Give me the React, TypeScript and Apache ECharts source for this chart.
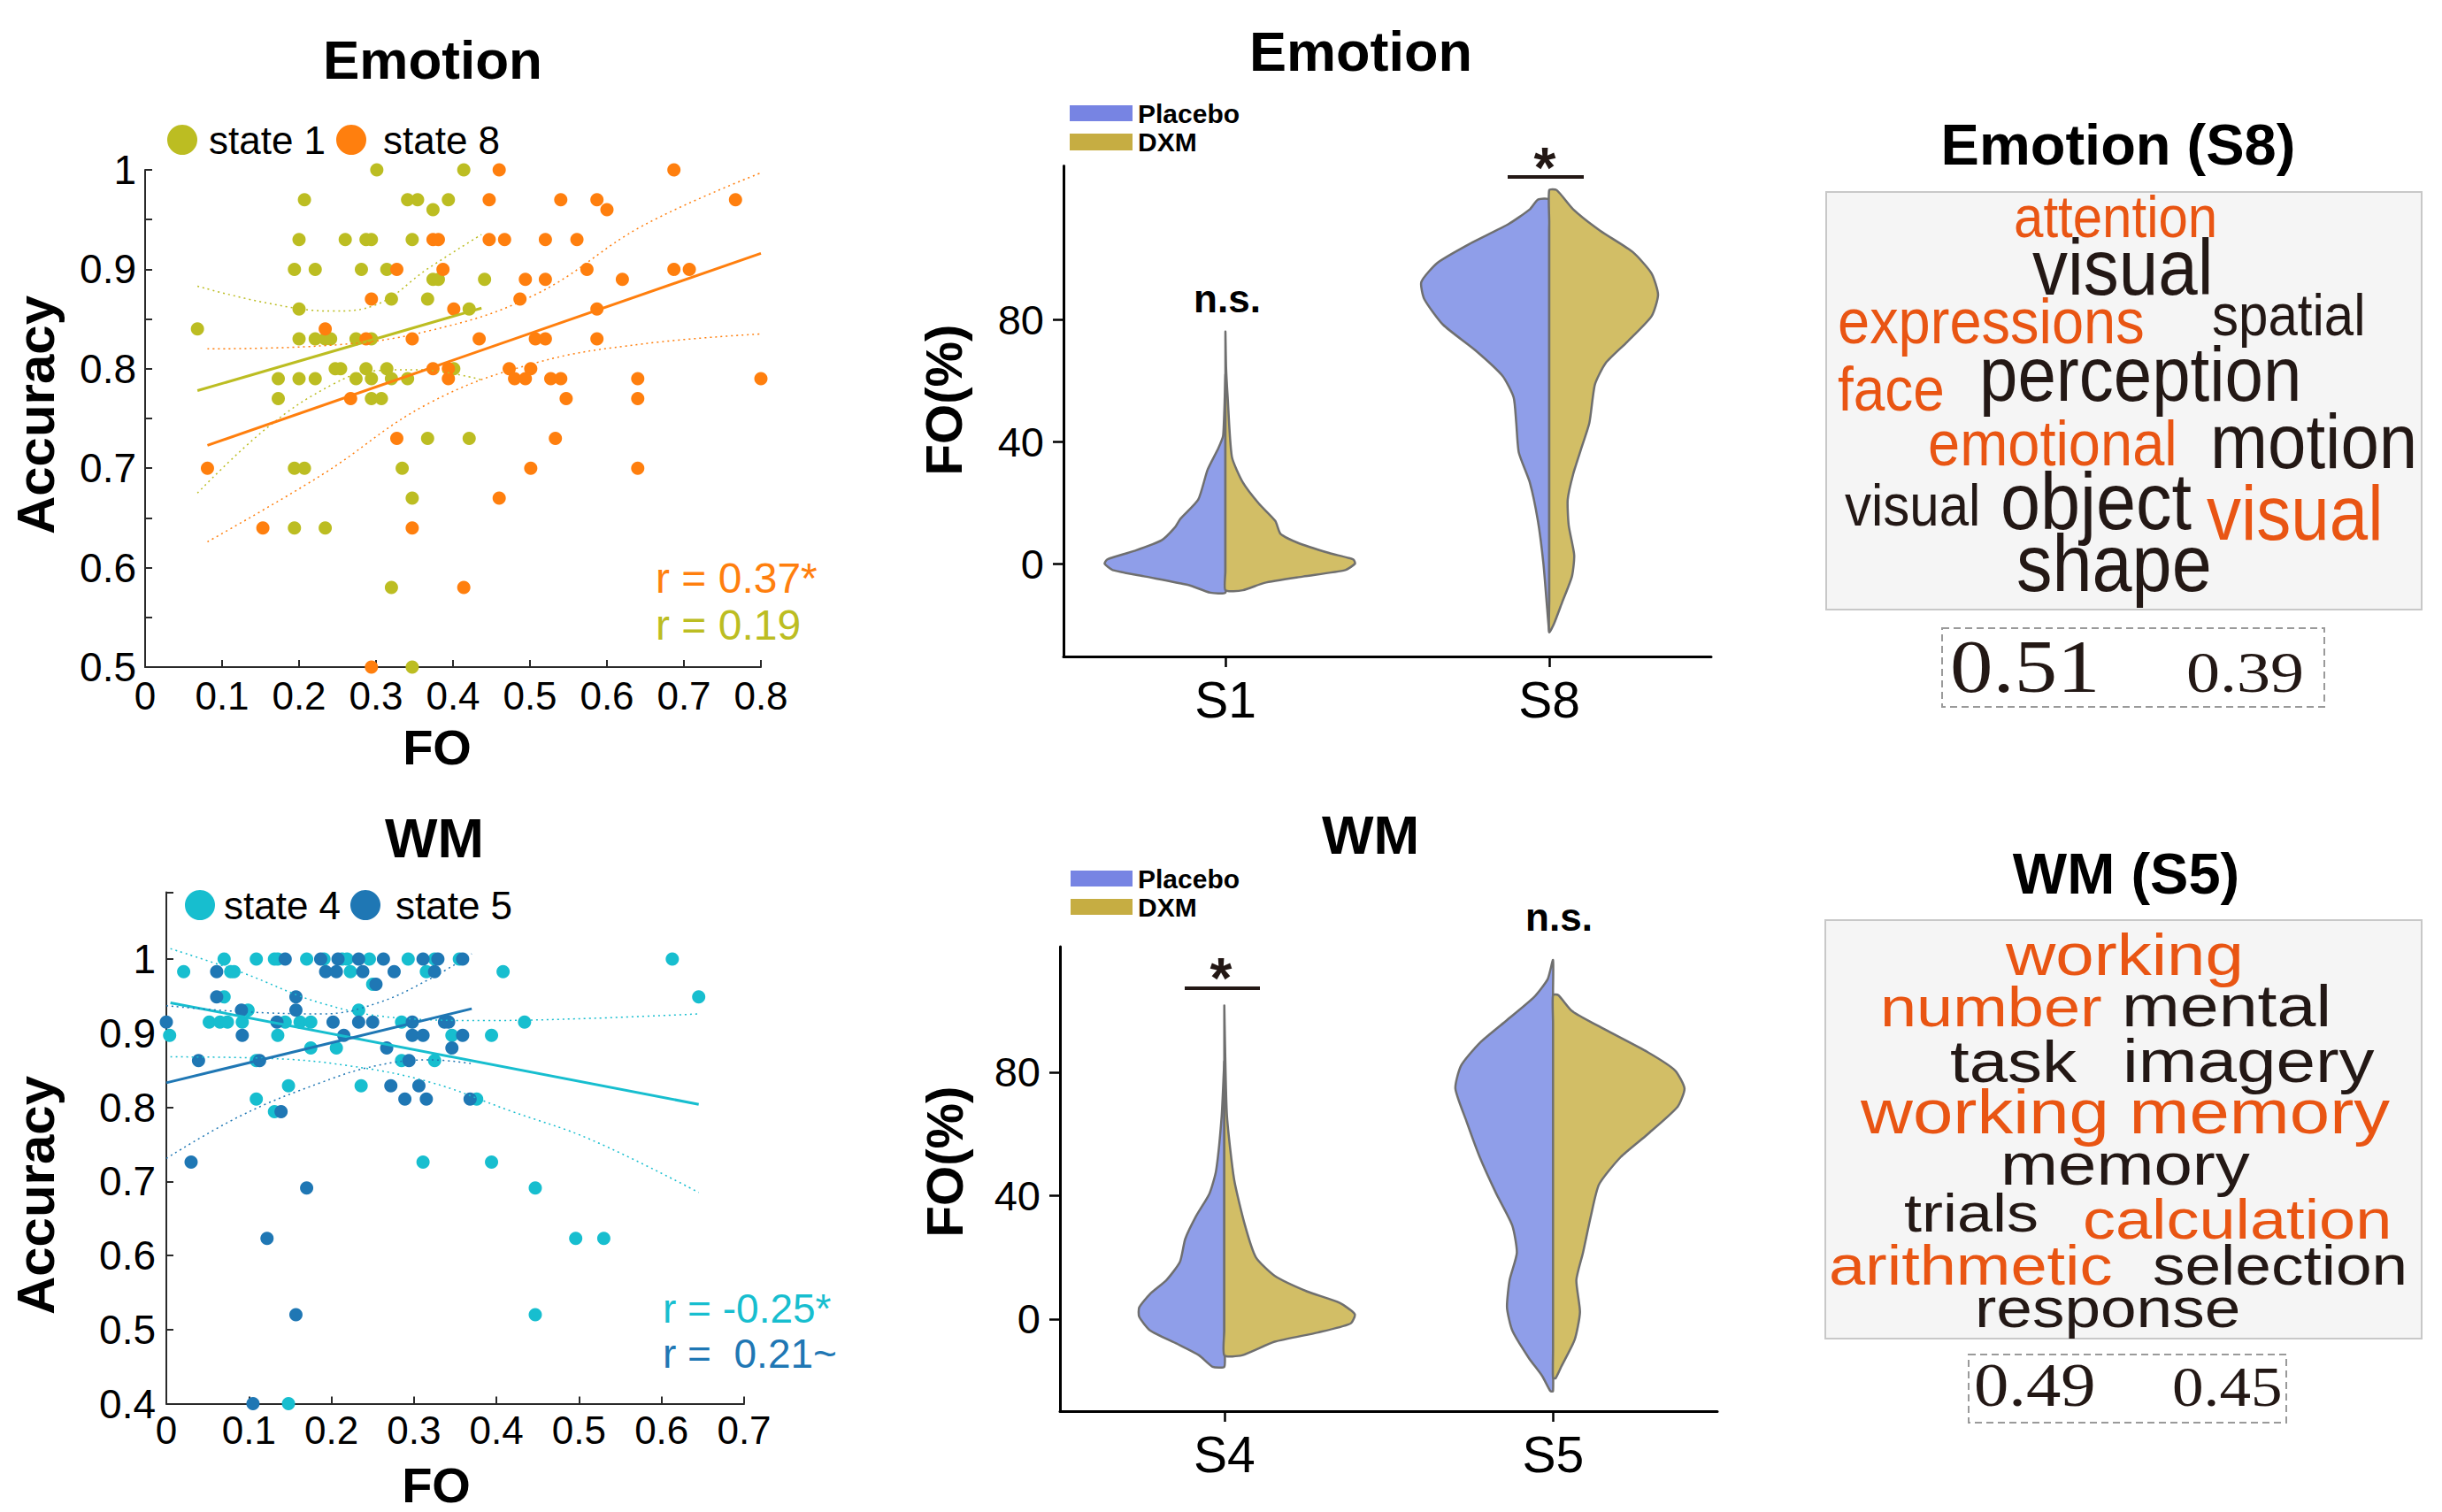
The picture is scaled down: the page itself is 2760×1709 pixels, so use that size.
import React, { useEffect, useRef } from "react";
import * as echarts from "echarts";

const W = 2760;
const H = 1709;
const FONT = '"Liberation Sans", Arial, Helvetica, sans-serif';
const SERIF = '"Liberation Serif", "Times New Roman", serif';

const C_S1 = "#bcbd22";
const C_S8 = "#ff7f0e";
const C_S4 = "#17becf";
const C_S5 = "#1f77b4";
const PLACEBO_FILL = "#8f9ee9";
const DXM_FILL = "#d2be66";
const PLACEBO_KEY = "#7784e3";
const DXM_KEY = "#c6ad42";
const WORD_ORANGE = "#e95513";
const WORD_DARK = "#231815";

// ---------- Emotion scatter (FO vs Accuracy) ----------
const state1Points = [
  [0.301, 1.0], [0.414, 1.0], [0.207, 0.97], [0.341, 0.97], [0.354, 0.97], [0.394, 0.97], [0.374, 0.96],
  [0.2, 0.93], [0.26, 0.93], [0.287, 0.93], [0.294, 0.93], [0.347, 0.93], [0.194, 0.9], [0.221, 0.9],
  [0.281, 0.9], [0.314, 0.9], [0.374, 0.89], [0.381, 0.89], [0.441, 0.89], [0.32, 0.87], [0.367, 0.87],
  [0.2, 0.86], [0.421, 0.86], [0.068, 0.84], [0.2, 0.83], [0.221, 0.83], [0.234, 0.83], [0.241, 0.83],
  [0.274, 0.83], [0.294, 0.83], [0.247, 0.8], [0.254, 0.8], [0.287, 0.8], [0.314, 0.8], [0.401, 0.8],
  [0.173, 0.79], [0.2, 0.79], [0.221, 0.79], [0.274, 0.79], [0.294, 0.79], [0.32, 0.79], [0.341, 0.79],
  [0.173, 0.77], [0.294, 0.77], [0.307, 0.77], [0.367, 0.73], [0.421, 0.73], [0.194, 0.7], [0.207, 0.7],
  [0.334, 0.7], [0.347, 0.67], [0.194, 0.64], [0.234, 0.64], [0.32, 0.58], [0.347, 0.5],
];
const state8Points = [
  [0.46, 1.0], [0.687, 1.0], [0.447, 0.97], [0.54, 0.97], [0.587, 0.97], [0.767, 0.97], [0.6, 0.96],
  [0.374, 0.93], [0.381, 0.93], [0.447, 0.93], [0.467, 0.93], [0.52, 0.93], [0.561, 0.93], [0.327, 0.9],
  [0.387, 0.9], [0.574, 0.9], [0.687, 0.9], [0.707, 0.9], [0.494, 0.89], [0.52, 0.89], [0.62, 0.89],
  [0.294, 0.87], [0.487, 0.87], [0.401, 0.86], [0.587, 0.86], [0.234, 0.84], [0.287, 0.83], [0.347, 0.83],
  [0.434, 0.83], [0.507, 0.83], [0.52, 0.83], [0.587, 0.83], [0.374, 0.8], [0.394, 0.8], [0.473, 0.8],
  [0.501, 0.8], [0.394, 0.79], [0.48, 0.79], [0.494, 0.79], [0.527, 0.79], [0.54, 0.79], [0.64, 0.79],
  [0.8, 0.79], [0.267, 0.77], [0.547, 0.77], [0.64, 0.77], [0.327, 0.73], [0.533, 0.73], [0.081, 0.7],
  [0.501, 0.7], [0.64, 0.7], [0.46, 0.67], [0.153, 0.64], [0.347, 0.64], [0.414, 0.58], [0.294, 0.5],
];
const state1Fit = [[0.068, 0.778], [0.437, 0.861]];
const state1CiUpper = [[0.068, 0.883], [0.159, 0.866], [0.243, 0.858], [0.299, 0.864], [0.368, 0.901], [0.437, 0.935]];
const state1CiLower = [[0.068, 0.675], [0.159, 0.741], [0.243, 0.784], [0.299, 0.798], [0.354, 0.799], [0.437, 0.789]];
const state8Fit = [[0.081, 0.723], [0.8, 0.916]];
const state8CiUpper = [[0.081, 0.82], [0.229, 0.823], [0.368, 0.838], [0.508, 0.875], [0.647, 0.944], [0.8, 0.997]];
const state8CiLower = [[0.081, 0.626], [0.229, 0.693], [0.368, 0.765], [0.508, 0.806], [0.647, 0.825], [0.8, 0.835]];

// ---------- WM scatter ----------
const state4Points = [
  [0.07, 1.0], [0.109, 1.0], [0.131, 1.0], [0.135, 1.0], [0.17, 1.0], [0.191, 1.0], [0.213, 1.0], [0.219, 1.0],
  [0.246, 1.0], [0.293, 1.0], [0.325, 1.0], [0.355, 1.0], [0.613, 1.0],
  [0.021, 0.983], [0.078, 0.983], [0.082, 0.983], [0.223, 0.983], [0.315, 0.983], [0.408, 0.983],
  [0.25, 0.966], [0.07, 0.949], [0.645, 0.949], [0.099, 0.931], [0.233, 0.931],
  [0.052, 0.915], [0.065, 0.915], [0.074, 0.915], [0.092, 0.915], [0.144, 0.915], [0.162, 0.915], [0.175, 0.915],
  [0.285, 0.915], [0.434, 0.915], [0.004, 0.897], [0.135, 0.897], [0.346, 0.897], [0.394, 0.897],
  [0.175, 0.88], [0.206, 0.88], [0.109, 0.863], [0.285, 0.863], [0.325, 0.863], [0.148, 0.829], [0.236, 0.829],
  [0.109, 0.811], [0.376, 0.811], [0.131, 0.794], [0.311, 0.726], [0.394, 0.726], [0.447, 0.691],
  [0.496, 0.623], [0.53, 0.623], [0.447, 0.52], [0.148, 0.4],
];
const state5Points = [
  [0.144, 1.0], [0.187, 1.0], [0.208, 1.0], [0.233, 1.0], [0.263, 1.0], [0.311, 1.0], [0.329, 1.0], [0.359, 1.0],
  [0.061, 0.983], [0.193, 0.983], [0.206, 0.983], [0.238, 0.983], [0.276, 0.983], [0.325, 0.983],
  [0.254, 0.966], [0.061, 0.949], [0.157, 0.949], [0.091, 0.931], [0.157, 0.931],
  [0.0, 0.915], [0.134, 0.915], [0.202, 0.915], [0.233, 0.915], [0.25, 0.915], [0.298, 0.915], [0.337, 0.915], [0.342, 0.915],
  [0.092, 0.897], [0.215, 0.897], [0.298, 0.897], [0.311, 0.897], [0.359, 0.897], [0.267, 0.88], [0.346, 0.88],
  [0.039, 0.863], [0.113, 0.863], [0.294, 0.863], [0.272, 0.829], [0.306, 0.829], [0.289, 0.811], [0.315, 0.811],
  [0.368, 0.811], [0.139, 0.794], [0.03, 0.726], [0.17, 0.691], [0.122, 0.623], [0.157, 0.52], [0.105, 0.4],
];
const state4Fit = [[0.005, 0.941], [0.645, 0.804]];
const state4CiUpper = [[0.005, 1.014], [0.091, 0.982], [0.189, 0.94], [0.287, 0.92], [0.385, 0.917], [0.515, 0.92], [0.645, 0.926]];
const state4CiLower = [[0.005, 0.868], [0.123, 0.866], [0.221, 0.856], [0.319, 0.834], [0.417, 0.795], [0.515, 0.756], [0.645, 0.685]];
const state5Fit = [[0.0, 0.833], [0.37, 0.933]];
const state5CiUpper = [[0.0, 0.937], [0.091, 0.929], [0.189, 0.926], [0.254, 0.94], [0.319, 0.973], [0.37, 1.007]];
const state5CiLower = [[0.0, 0.731], [0.091, 0.789], [0.189, 0.834], [0.254, 0.856], [0.319, 0.864], [0.37, 0.859]];

// ---------- Violins: [FO(%), half-width as fraction of category band] ----------
const emotionStates = ["S1", "S8"];
const wmStates = ["S4", "S5"];
const emoS1Placebo = [[62, 0], [42, 0.007], [37.8, 0.022], [30.8, 0.055], [21, 0.084], [14.7, 0.139], [11.9, 0.156], [7.7, 0.197], [4.2, 0.281], [1.4, 0.365], [0, 0.373], [-2.1, 0.348], [-4.2, 0.248], [-7, 0.114], [-9.5, 0.047], [-9.5, 0]];
const emoS1Dxm = [[76, 0], [64.3, 0.002], [54.5, 0.007], [35, 0.02], [26.6, 0.054], [19.6, 0.104], [14, 0.154], [9.8, 0.17], [7, 0.22], [3.5, 0.32], [1.4, 0.395], [0, 0.4], [-2.1, 0.37], [-4.2, 0.24], [-6.3, 0.12], [-8.7, 0.054], [-8.7, 0]];
const emoS8Placebo = [[119.3, 0], [119.3, 0.035], [116.1, 0.06], [111.2, 0.127], [104.9, 0.244], [98.6, 0.345], [92.3, 0.395], [86.7, 0.386], [78.3, 0.328], [69.9, 0.228], [61.5, 0.144], [54.5, 0.11], [46.2, 0.102], [36.4, 0.094], [26.6, 0.06], [14, 0.035], [0, 0.018], [-14, 0.007], [-22.4, 0]];
const emoS8Dxm = [[122.4, 0], [122.4, 0.023], [116.1, 0.074], [109.1, 0.157], [102.1, 0.258], [95.1, 0.316], [88.1, 0.336], [81.1, 0.316], [72.7, 0.241], [65.7, 0.174], [58.7, 0.141], [46.2, 0.124], [37.8, 0.099], [29.4, 0.074], [21, 0.057], [12.6, 0.06], [2.8, 0.077], [-4.2, 0.07], [-12.6, 0.04], [-19.6, 0.015], [-22.4, 0]];
const wmS4Placebo = [[83.5, 0], [65.8, 0.008], [48.1, 0.025], [40.7, 0.045], [33.3, 0.086], [25.9, 0.119], [18.5, 0.135], [12.6, 0.176], [8.1, 0.226], [3.7, 0.259], [0.7, 0.259], [-3.7, 0.226], [-8.1, 0.143], [-11.8, 0.077], [-15.5, 0.036], [-15.5, 0]];
const wmS4Dxm = [[101.6, 0], [89.5, 0.002], [65.8, 0.008], [45.1, 0.03], [30.3, 0.063], [20, 0.096], [14, 0.153], [8.9, 0.252], [5.2, 0.351], [1.5, 0.397], [-1.5, 0.384], [-4.4, 0.285], [-7.4, 0.153], [-11.8, 0.054], [-11.8, 0]];
const wmS5Placebo = [[116.4, 0], [110.2, 0.016], [104.3, 0.058], [96.9, 0.14], [89.5, 0.223], [82.1, 0.28], [74.7, 0.297], [64.3, 0.264], [52.5, 0.223], [40.7, 0.173], [30.3, 0.124], [21.4, 0.11], [12.6, 0.132], [3.7, 0.14], [-3.7, 0.124], [-12.6, 0.074], [-18.5, 0.033], [-23.4, 0.008], [-23.4, 0]];
const wmS5Dxm = [[105, 0], [105, 0.016], [99.8, 0.058], [93.9, 0.157], [86.5, 0.288], [80.6, 0.371], [74.7, 0.4], [68.8, 0.379], [59.9, 0.288], [52.5, 0.206], [43.6, 0.14], [33.3, 0.115], [21.4, 0.091], [12.6, 0.071], [2.2, 0.082], [-6.7, 0.066], [-15.5, 0.025], [-19.2, 0.008], [-19.2, 0]];
const violinTicks = [0, 40, 80];

// ---------- Word clouds ----------
const emotionWords = ["attention", "visual", "spatial", "expressions", "face", "perception", "emotional", "motion", "visual", "object", "visual", "shape"];
const emotionHighlight = [true, false, false, true, true, false, true, false, false, false, true, false];
const emotionScores = ["0.51", "0.39"];
const wmWords = ["working", "number", "mental", "task", "imagery", "working memory", "memory", "trials", "calculation", "arithmetic", "selection", "response"];
const wmHighlight = [true, true, false, false, false, true, false, false, true, true, false, false];
const wmScores = ["0.49", "0.45"];

// layout of words: [left x, baseline y, font size]
const emotionWordLayout = [
  [2276, 268, 66.7], [2297, 333, 88.9], [2500, 379, 66.7], [2077, 388, 72.2], [2077, 464, 71.1], [2237, 453, 86.7],
  [2179, 526, 72.2], [2498, 529, 86.7], [2085, 594, 66.7], [2261, 598, 90], [2494, 610, 86.7], [2279, 668, 90],
];
const wmWordLayout = [
  [2267, 1102, 66.7], [2125, 1160, 63.2], [2398, 1160, 67.5], [2204, 1223, 66.7], [2399, 1223, 68.4], [2103, 1281, 69.7],
  [2261, 1339, 66.7], [2152, 1392, 61.5], [2354, 1400, 63.2], [2067, 1452, 63.2], [2433, 1452, 62.4], [2232, 1500, 62.4],
];

type TextOpts = { bold?: boolean; color?: string; align?: string; rotation?: number; scaleX?: number; family?: string };
function txt(text: string, x: number, y: number, fontSize: number, o: TextOpts = {}) {
  const align = o.align || "center";
  return {
    type: "text",
    x,
    y,
    rotation: o.rotation || 0,
    scaleX: o.scaleX || 1,
    silent: true,
    z: 100,
    style: {
      text,
      fontSize,
      fontFamily: o.family || FONT,
      fontWeight: o.bold ? "bold" : "normal",
      fill: o.color || "#000",
      align,
      textAlign: align,
      verticalAlign: "middle",
      textVerticalAlign: "middle",
    },
  };
}
// baseline -> middle for Liberation fonts
const mid = (baseline: number, fs: number) => baseline - 0.347 * fs;

function cloud(words: string[], hl: boolean[], layout: number[][], sx: number) {
  return words.map((w, i) => {
    const [x, b, fs] = layout[i];
    return txt(w, x, mid(b, fs), fs, { align: "left", color: hl[i] ? WORD_ORANGE : WORD_DARK, scaleX: sx });
  });
}

function makeViolinRender(profiles: number[][][][]) {
  return (params: any, api: any) => {
    const cat = api.value(0);
    const side = api.value(1);
    const prof = profiles[cat][side];
    const band = api.size([1, 0])[0];
    const cx = api.coord([cat, 0])[0];
    const sign = side === 0 ? -1 : 1;
    const pts: number[][] = prof.map(([fo, w]) => [cx + sign * w * band, api.coord([cat, fo])[1]]);
    const top = prof[0][0];
    const bot = prof[prof.length - 1][0];
    for (let i = 1; i < 14; i++) {
      const fo = bot + ((top - bot) * i) / 14;
      pts.push([cx, api.coord([cat, fo])[1]]);
    }
    return {
      type: "polygon",
      shape: { points: pts, smooth: 0.2 },
      style: { fill: side === 0 ? PLACEBO_FILL : DXM_FILL, stroke: "#6f6f6f", lineWidth: 2.5 },
    };
  };
}

const fmt1 = (v: number) => String(Math.round(v * 10) / 10);

function scatterAxisCommon() {
  return {
    axisLine: { show: true, onZero: false, lineStyle: { color: "#2a2a2a", width: 2 } },
    axisTick: { show: true, inside: true, length: 8, lineStyle: { color: "#2a2a2a", width: 2 } },
    splitLine: { show: false },
  };
}

function violinYAxis(grid: number, min: number, max: number) {
  return {
    type: "value",
    gridIndex: grid,
    min,
    max,
    axisLine: { show: true, onZero: false, lineStyle: { color: "#000", width: 3 } },
    axisTick: { show: true, length: 12, customValues: violinTicks, lineStyle: { color: "#000", width: 2.5 } },
    axisLabel: { customValues: violinTicks, fontSize: 47, fontFamily: FONT, color: "#000", margin: 22 },
    splitLine: { show: false },
  };
}

function violinXAxis(grid: number, cats: string[]) {
  return {
    type: "category",
    gridIndex: grid,
    data: cats,
    axisLine: { show: true, onZero: false, lineStyle: { color: "#000", width: 3 } },
    axisTick: { show: true, alignWithLabel: true, length: 12, lineStyle: { color: "#000", width: 2.5 } },
    axisLabel: { fontSize: 57, fontFamily: FONT, color: "#000", margin: 20 },
    splitLine: { show: false },
  };
}

function scatterSeries(data: number[][], color: string, xi: number) {
  return {
    type: "scatter",
    xAxisIndex: xi,
    yAxisIndex: xi,
    data,
    symbol: "circle",
    symbolSize: 15,
    silent: true,
    itemStyle: { color, opacity: 1 },
  };
}
function lineSeries(data: number[][], color: string, xi: number, dotted: boolean) {
  return {
    type: "line",
    xAxisIndex: xi,
    yAxisIndex: xi,
    data,
    symbol: "none",
    smooth: dotted ? 0.4 : false,
    silent: true,
    lineStyle: { color, width: dotted ? 1.5 : 3, type: dotted ? [2, 4] : "solid" },
    z: 5,
  };
}

function buildOption() {
  const graphic: any[] = [
    // titles
    txt("Emotion", 489, 67, 62, { bold: true }),
    txt("WM", 491, 947, 63, { bold: true }),
    txt("Emotion", 1538, 58, 63, { bold: true }),
    txt("WM", 1549, 943, 62, { bold: true }),
    txt("Emotion (S8)", 2394, 163, 65, { bold: true }),
    txt("WM (S5)", 2403, 987, 65, { bold: true }),
    // axis names
    txt("Accuracy", 40, 469, 60, { bold: true, rotation: Math.PI / 2 }),
    txt("Accuracy", 40, 1351, 60, { bold: true, rotation: Math.PI / 2 }),
    txt("FO", 494, 844, 56, { bold: true }),
    txt("FO", 493, 1678, 56, { bold: true }),
    txt("FO(%)", 1066, 452, 58, { bold: true, rotation: Math.PI / 2 }),
    txt("FO(%)", 1067, 1313, 58, { bold: true, rotation: Math.PI / 2 }),
    // scatter legends
    { type: "circle", shape: { cx: 206, cy: 158, r: 17 }, style: { fill: C_S1 }, silent: true },
    txt("state 1", 236, 158, 44, { align: "left" }),
    { type: "circle", shape: { cx: 397, cy: 158, r: 17 }, style: { fill: C_S8 }, silent: true },
    txt("state 8", 433, 158, 44, { align: "left" }),
    { type: "circle", shape: { cx: 226, cy: 1023, r: 17 }, style: { fill: C_S4 }, silent: true },
    txt("state 4", 253, 1023, 44, { align: "left" }),
    { type: "circle", shape: { cx: 413, cy: 1023, r: 17 }, style: { fill: C_S5 }, silent: true },
    txt("state 5", 447, 1023, 44, { align: "left" }),
    // correlations
    txt("r = 0.37*", 741, 653, 48, { align: "left", color: C_S8 }),
    txt("r = 0.19", 741, 706, 48, { align: "left", color: C_S1 }),
    txt("r = -0.25*", 749, 1479, 46, { align: "left", color: C_S4 }),
    txt("r = \u00a00.21~", 749, 1530, 46, { align: "left", color: C_S5 }),
    // violin legends
    { type: "rect", shape: { x: 1209, y: 119, width: 71, height: 18 }, style: { fill: PLACEBO_KEY }, silent: true },
    txt("Placebo", 1286, 128, 30, { bold: true, align: "left" }),
    { type: "rect", shape: { x: 1209, y: 151, width: 71, height: 19 }, style: { fill: DXM_KEY }, silent: true },
    txt("DXM", 1286, 160, 30, { bold: true, align: "left" }),
    { type: "rect", shape: { x: 1210, y: 984, width: 70, height: 18 }, style: { fill: PLACEBO_KEY }, silent: true },
    txt("Placebo", 1286, 993, 30, { bold: true, align: "left" }),
    { type: "rect", shape: { x: 1210, y: 1016, width: 70, height: 18 }, style: { fill: DXM_KEY }, silent: true },
    txt("DXM", 1286, 1025, 30, { bold: true, align: "left" }),
    // significance
    txt("n.s.", 1387, 337, 44, { bold: true }),
    txt("*", 1746, 190, 64, { bold: true, color: WORD_DARK }),
    { type: "line", shape: { x1: 1704, y1: 200, x2: 1790, y2: 200 }, style: { stroke: WORD_DARK, lineWidth: 4 }, silent: true },
    txt("*", 1380, 1106, 64, { bold: true, color: WORD_DARK }),
    { type: "line", shape: { x1: 1339, y1: 1117, x2: 1424, y2: 1117 }, style: { stroke: WORD_DARK, lineWidth: 4 }, silent: true },
    txt("n.s.", 1762, 1036, 44, { bold: true }),
    // word cloud boxes
    { type: "rect", shape: { x: 2064, y: 217, width: 673, height: 472 }, style: { fill: "#f5f5f5", stroke: "#c8c8c8", lineWidth: 2 }, silent: true },
    { type: "rect", shape: { x: 2063, y: 1040, width: 674, height: 473 }, style: { fill: "#f5f5f5", stroke: "#c8c8c8", lineWidth: 2 }, silent: true },
    { type: "rect", shape: { x: 2195, y: 710, width: 432, height: 89 }, style: { fill: "none", stroke: "#9a9a9a", lineWidth: 2, lineDash: [8, 5] }, silent: true },
    { type: "rect", shape: { x: 2225, y: 1531, width: 359, height: 77 }, style: { fill: "none", stroke: "#9a9a9a", lineWidth: 2, lineDash: [8, 5] }, silent: true },
    ...cloud(emotionWords, emotionHighlight, emotionWordLayout, 0.9),
    ...cloud(wmWords, wmHighlight, wmWordLayout, 1.17),
    txt(emotionScores[0], 2204, mid(783, 85), 85, { align: "left", family: SERIF, color: WORD_DARK, scaleX: 1.14 }),
    txt(emotionScores[1], 2471, mid(783, 65), 65, { align: "left", family: SERIF, color: WORD_DARK, scaleX: 1.17 }),
    txt(wmScores[0], 2231, mid(1590, 69), 69, { align: "left", family: SERIF, color: WORD_DARK, scaleX: 1.14 }),
    txt(wmScores[1], 2455, mid(1590, 63), 63, { align: "left", family: SERIF, color: WORD_DARK, scaleX: 1.13 }),
  ];

  return {
    animation: false,
    backgroundColor: "#ffffff",
    grid: [
      { left: 164, top: 192, width: 696, height: 562, containLabel: false, outerBoundsMode: "none" },
      { left: 188, top: 1008.6, width: 653, height: 578, containLabel: false, outerBoundsMode: "none" },
      { left: 1202, top: 187.6, width: 732, height: 554.4, containLabel: false, outerBoundsMode: "none" },
      { left: 1198, top: 1070, width: 743, height: 525, containLabel: false, outerBoundsMode: "none" },
    ],
    xAxis: [
      {
        type: "value", gridIndex: 0, min: 0, max: 0.8, interval: 0.1, ...scatterAxisCommon(),
        axisLabel: { fontSize: 44, fontFamily: FONT, color: "#000", margin: 10, formatter: fmt1 },
      },
      {
        type: "value", gridIndex: 1, min: 0, max: 0.7, interval: 0.1, ...scatterAxisCommon(),
        axisLabel: { fontSize: 44, fontFamily: FONT, color: "#000", margin: 8, formatter: fmt1 },
      },
      violinXAxis(2, emotionStates),
      violinXAxis(3, wmStates),
    ],
    yAxis: [
      {
        type: "value", gridIndex: 0, min: 0.5, max: 1, interval: 0.05, ...scatterAxisCommon(),
        axisLabel: {
          fontSize: 46, fontFamily: FONT, color: "#000", margin: 10,
          formatter: (v: number) => (Math.abs(v * 10 - Math.round(v * 10)) > 1e-3 ? "" : fmt1(v)),
        },
      },
      {
        type: "value", gridIndex: 1, min: 0.4, max: 1.09, interval: 0.1, ...scatterAxisCommon(),
        axisLabel: {
          fontSize: 46, fontFamily: FONT, color: "#000", margin: 12,
          formatter: (v: number) => (v > 1.001 ? "" : fmt1(v)),
        },
      },
      violinYAxis(2, -30.4, 130.3),
      violinYAxis(3, -29.9, 120.7),
    ],
    series: [
      scatterSeries(state1Points, C_S1, 0),
      scatterSeries(state8Points, C_S8, 0),
      lineSeries(state1Fit, C_S1, 0, false),
      lineSeries(state1CiUpper, C_S1, 0, true),
      lineSeries(state1CiLower, C_S1, 0, true),
      lineSeries(state8Fit, C_S8, 0, false),
      lineSeries(state8CiUpper, C_S8, 0, true),
      lineSeries(state8CiLower, C_S8, 0, true),
      scatterSeries(state4Points, C_S4, 1),
      scatterSeries(state5Points, C_S5, 1),
      lineSeries(state4Fit, C_S4, 1, false),
      lineSeries(state4CiUpper, C_S4, 1, true),
      lineSeries(state4CiLower, C_S4, 1, true),
      lineSeries(state5Fit, C_S5, 1, false),
      lineSeries(state5CiUpper, C_S5, 1, true),
      lineSeries(state5CiLower, C_S5, 1, true),
      {
        type: "custom",
        xAxisIndex: 2,
        yAxisIndex: 2,
        silent: true,
        data: [[0, 0], [0, 1], [1, 0], [1, 1]],
        renderItem: makeViolinRender([[emoS1Placebo, emoS1Dxm], [emoS8Placebo, emoS8Dxm]]),
      },
      {
        type: "custom",
        xAxisIndex: 3,
        yAxisIndex: 3,
        silent: true,
        data: [[0, 0], [0, 1], [1, 0], [1, 1]],
        renderItem: makeViolinRender([[wmS4Placebo, wmS4Dxm], [wmS5Placebo, wmS5Dxm]]),
      },
    ],
    graphic,
  };
}

export default function App() {
  const ref = useRef<HTMLDivElement>(null);
  useEffect(() => {
    if (!ref.current) return;
    const chart = echarts.init(ref.current, null, { renderer: "svg", width: W, height: H });
    chart.setOption(buildOption() as any);
    return () => chart.dispose();
  }, []);
  return (
    <div
      ref={ref}
      style={{ position: "fixed", left: 0, top: 0, width: W, height: H, background: "#fff" }}
    />
  );
}
